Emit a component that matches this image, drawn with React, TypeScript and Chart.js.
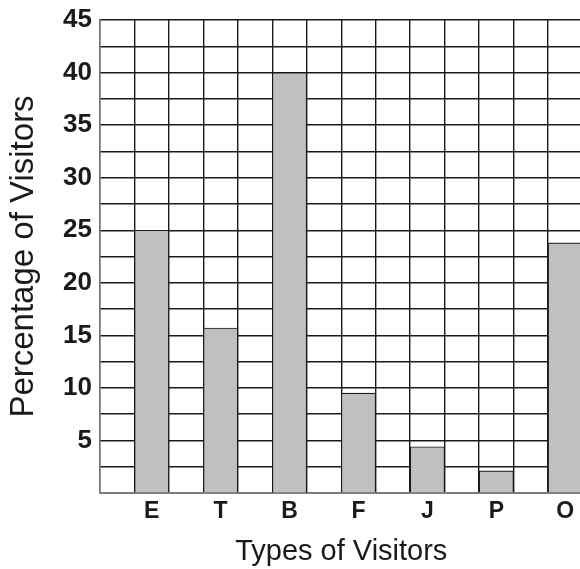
import React, { useEffect, useRef } from 'react';
import Chart from 'chart.js/auto';

// visitor types and their share
const categories = ['E', 'T', 'B', 'F', 'J', 'P', 'O'];
const percentages = [25, 15.7, 40, 9.5, 4.4, 2.1, 23.8];
const yTickLabels = [5, 10, 15, 20, 25, 30, 35, 40, 45];

const FONT = "'Liberation Sans', Arial, sans-serif";

const App: React.FC = () => {
  const chartRef = useRef<HTMLCanvasElement | null>(null);
  const chartInstance = useRef<Chart | null>(null);

  useEffect(() => {
    if (!chartRef.current) return;
    if (chartInstance.current) {
      chartInstance.current.destroy();
    }

    // every category sits in its own column with an empty column before it
    const labels = categories.flatMap((c) => ['', c]);
    const data = percentages.flatMap((v) => [null, v]);

    const ctx = chartRef.current.getContext('2d');
    if (!ctx) return;

    chartInstance.current = new Chart(ctx, {
      type: 'bar',
      data: {
        labels,
        datasets: [
          {
            label: 'Percentage of Visitors',
            data,
            backgroundColor: '#c0c0c0',
            borderColor: '#1a1a1a',
            borderWidth: 1.2,
            barPercentage: 1,
            categoryPercentage: 1,
          },
        ],
      },
      options: {
        animation: false,
        responsive: true,
        maintainAspectRatio: false,
        layout: { padding: { top: 20, right: 1.5, left: 0, bottom: 0 } },
        plugins: {
          legend: { display: false },
          tooltip: { enabled: false },
        },
        scales: {
          x: {
            grid: {
              offset: true,
              color: '#1a1a1a',
              lineWidth: 1.4,
              drawTicks: false,
            },
            border: { color: '#777777', width: 1.4 },
            ticks: {
              color: '#1a1a1a',
              font: { family: FONT, size: 23, weight: 'bold' },
              padding: 5,
              autoSkip: false,
              maxRotation: 0,
            },
            title: {
              display: true,
              text: 'Types of Visitors',
              color: '#1a1a1a',
              font: { family: FONT, size: 29 },
              padding: { top: 0, bottom: 0 },
            },
            afterFit: (scale) => {
              scale.height = 76;
            },
          },
          y: {
            min: 0,
            max: 45,
            grid: {
              color: '#1a1a1a',
              lineWidth: 1.4,
              drawTicks: false,
            },
            border: { color: '#777777', width: 1.4 },
            ticks: {
              stepSize: 2.5,
              autoSkip: false,
              color: '#1a1a1a',
              font: { family: FONT, size: 26, weight: 'bold', lineHeight: 0.8 },
              padding: 8,
              callback: (value) =>
                yTickLabels.includes(Number(value)) ? String(value) : '',
            },
            title: {
              display: true,
              text: 'Percentage of Visitors',
              color: '#1a1a1a',
              font: { family: FONT, size: 33 },
              padding: { top: 4, bottom: 0 },
            },
            afterFit: (scale) => {
              scale.width = 100;
            },
          },
        },
      },
    });

    return () => {
      if (chartInstance.current) {
        chartInstance.current.destroy();
        chartInstance.current = null;
      }
    };
  }, []);

  return (
    <div
      style={{
        position: 'fixed',
        left: 0,
        top: 0,
        width: 580,
        height: 569,
        overflow: 'hidden',
        background: '#ffffff',
      }}
    >
      <div style={{ position: 'relative', width: 584, height: 569 }}>
        <canvas ref={chartRef} />
      </div>
    </div>
  );
};

export default App;
